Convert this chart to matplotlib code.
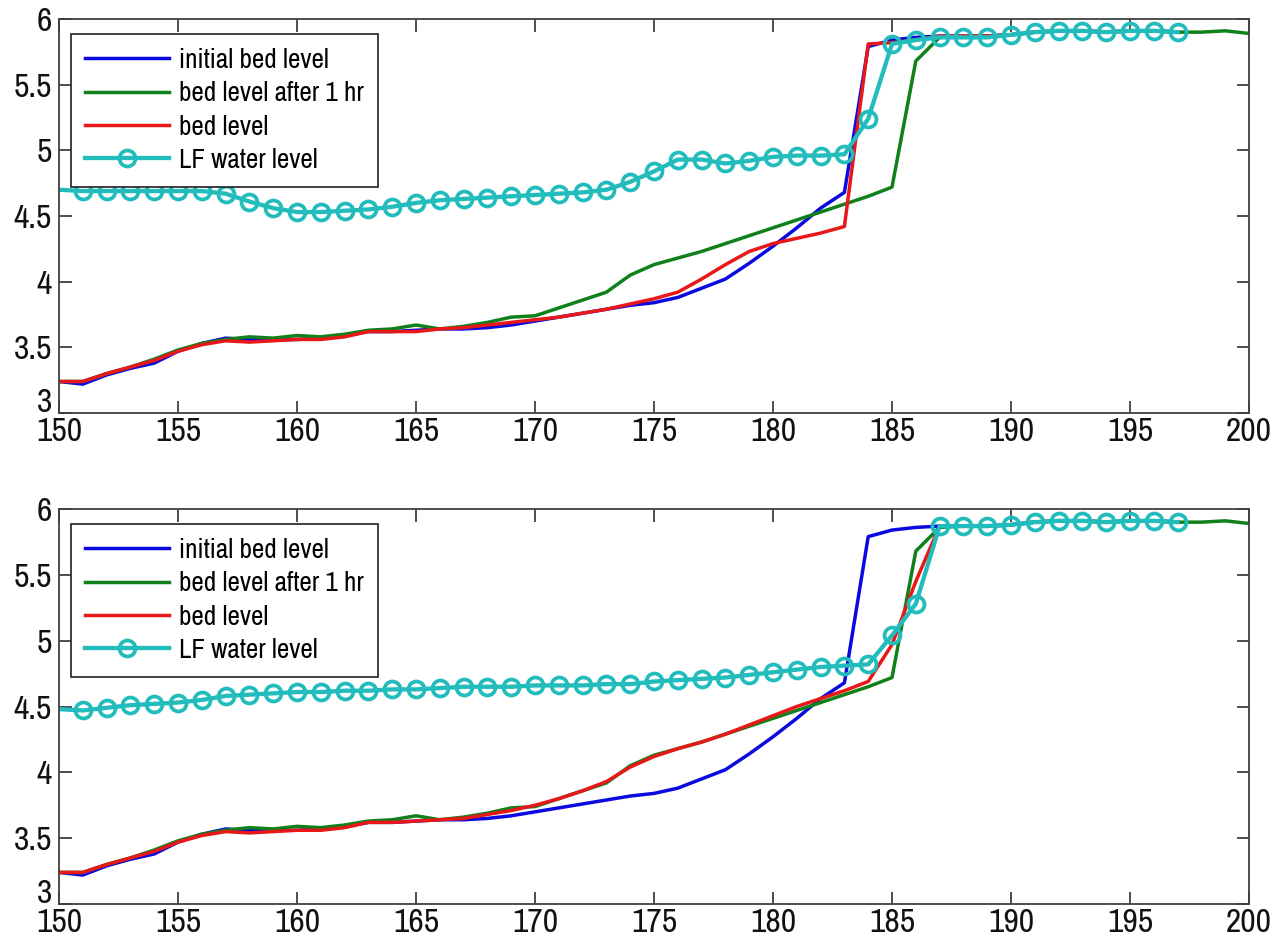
import numpy as np
import matplotlib
matplotlib.use("Agg")
import matplotlib.pyplot as plt
from matplotlib import font_manager as fm
from matplotlib.transforms import ScaledTranslation

# pick a condensed sans-serif (the original uses narrow Helvetica-like text)
available = {f.name for f in fm.fontManager.ttflist}
prefs = ['Liberation Sans Narrow', 'Arial Narrow', 'Archivo Narrow',
         'PT Sans Narrow', 'Roboto Condensed', 'Liberation Sans']
FAM = next((p for p in prefs if p in available), 'DejaVu Sans')
plt.rcParams['font.family'] = [FAM, 'Liberation Sans', 'DejaVu Sans']

# ---------------- data ----------------
x_bed = list(range(150, 201))      # 150..200 (green)
x_short = list(range(150, 198))    # 150..197 (blue, red, cyan)

initial_bed = [3.24, 3.22, 3.29, 3.34, 3.38, 3.47, 3.53, 3.57, 3.56, 3.56,
               3.56, 3.57, 3.59, 3.62, 3.62, 3.63, 3.64, 3.64, 3.65, 3.67,
               3.70, 3.73, 3.76, 3.79, 3.82, 3.84, 3.88, 3.95, 4.02, 4.14,
               4.27, 4.41, 4.56, 4.68, 5.79, 5.84, 5.86, 5.87, 5.87, 5.87,
               5.88, 5.90, 5.91, 5.91, 5.90, 5.91, 5.91, 5.90]

bed_after_1hr = [3.24, 3.24, 3.30, 3.35, 3.41, 3.48, 3.53, 3.56, 3.58, 3.57,
                 3.59, 3.58, 3.60, 3.63, 3.64, 3.67, 3.64, 3.66, 3.69, 3.73,
                 3.74, 3.80, 3.86, 3.92, 4.05, 4.13, 4.18, 4.23, 4.29, 4.35,
                 4.41, 4.47, 4.53, 4.59, 4.65, 4.72, 5.68, 5.86, 5.87, 5.87,
                 5.88, 5.90, 5.91, 5.91, 5.90, 5.91, 5.91, 5.90, 5.90, 5.91,
                 5.89]

bed_level_top = [3.24, 3.24, 3.30, 3.35, 3.40, 3.47, 3.52, 3.55, 3.54, 3.55,
                 3.56, 3.56, 3.58, 3.62, 3.62, 3.62, 3.64, 3.65, 3.67, 3.69,
                 3.71, 3.73, 3.76, 3.79, 3.83, 3.87, 3.92, 4.02, 4.13, 4.23,
                 4.29, 4.33, 4.37, 4.42, 5.81, 5.82, 5.84, 5.87, 5.87, 5.87,
                 5.88, 5.90, 5.91, 5.91, 5.90, 5.91, 5.91, 5.90]

water_top = [4.70, 4.69, 4.69, 4.69, 4.69, 4.69, 4.69, 4.67, 4.61, 4.56,
             4.53, 4.53, 4.54, 4.55, 4.57, 4.60, 4.62, 4.63, 4.64, 4.65,
             4.66, 4.67, 4.68, 4.70, 4.76, 4.84, 4.93, 4.93, 4.90, 4.92,
             4.95, 4.96, 4.96, 4.97, 5.24, 5.81, 5.84, 5.86, 5.86, 5.86,
             5.88, 5.90, 5.91, 5.91, 5.90, 5.91, 5.91, 5.90]

bed_level_bottom = [3.24, 3.24, 3.30, 3.35, 3.40, 3.47, 3.52, 3.55, 3.54, 3.55,
                    3.56, 3.56, 3.58, 3.62, 3.62, 3.63, 3.64, 3.65, 3.68, 3.71,
                    3.75, 3.80, 3.86, 3.93, 4.04, 4.12, 4.18, 4.23, 4.29, 4.36,
                    4.43, 4.50, 4.56, 4.62, 4.69, 4.97, 5.45, 5.87, 5.87, 5.87,
                    5.88, 5.90, 5.91, 5.91, 5.90, 5.91, 5.91, 5.90]

water_bottom = [4.48, 4.47, 4.49, 4.51, 4.52, 4.53, 4.55, 4.58, 4.59, 4.60,
                4.61, 4.61, 4.62, 4.62, 4.63, 4.63, 4.64, 4.65, 4.65, 4.65,
                4.66, 4.66, 4.66, 4.67, 4.67, 4.69, 4.70, 4.71, 4.72, 4.74,
                4.76, 4.78, 4.80, 4.81, 4.82, 5.04, 5.28, 5.87, 5.87, 5.87,
                5.88, 5.90, 5.91, 5.91, 5.90, 5.91, 5.91, 5.90]

labels = ['initial bed level', 'bed level after 1 hr', 'bed level', 'LF water level']
x_ticks = [150, 155, 160, 165, 170, 175, 180, 185, 190, 195, 200]
y_ticks = [3, 3.5, 4, 4.5, 5, 5.5, 6]
y_ticklabels = ['3', '3.5', '4', '4.5', '5', '5.5', '6']

# ---------------- style ----------------
C_BLUE = '#0a0ae0'
C_GREEN = '#10801a'
C_RED = '#e81818'
C_CYAN = '#22bcbc'
LW = 2.5

fig = plt.figure(figsize=(12.83, 9.41), dpi=100)
renderer = fig.canvas.get_renderer()


def text_size(s, target_w):
    t = fig.text(0, 0, s, fontsize=20)
    bb = t.get_window_extent(renderer)
    t.remove()
    return 20 * target_w / bb.width


FS_LEG = text_size('initial bed level', 150)
FS_TICK = text_size('150', 46)
t = fig.text(0, 0, 'initial bed level', fontsize=FS_LEG)
H_LEG = t.get_window_extent(renderer).height
t.remove()
E = FS_LEG * 100 / 72.0
BOX_H = 153.0
BORDERPAD = 14.0 / E
LABELSPACING = max(0.05, (BOX_H - 2 * BORDERPAD * E - 4 * H_LEG) / (3 * E))

ax_top = fig.add_axes([0.046, 0.5611, 0.9275, 0.4187])
ax_bot = fig.add_axes([0.046, 0.0393, 0.9275, 0.4198])


def draw(ax, bed, water):
    ax.plot(x_short, initial_bed, color=C_BLUE, lw=LW, label=labels[0])
    ax.plot(x_bed, bed_after_1hr, color=C_GREEN, lw=LW, label=labels[1])
    ax.plot(x_short, bed, color=C_RED, lw=LW, label=labels[2])
    ax.plot(x_short, water, color=C_CYAN, lw=LW + 0.6, marker='o',
            markersize=11.5, markerfacecolor='none', markeredgewidth=2.7,
            markevery=list(range(1, len(x_short))), label=labels[3])
    ax.set_xlim(150, 200)
    ax.set_ylim(3, 6)
    ax.set_xticks(x_ticks)
    ax.set_xticklabels([str(v) for v in x_ticks])
    ax.set_yticks(y_ticks)
    ax.set_yticklabels(y_ticklabels)
    ax.tick_params(direction='in', length=9, width=1.2, colors='#303030',
                   labelcolor='#111111', labelsize=FS_TICK, top=True, right=True)
    ax.tick_params(axis='x', pad=3)
    ax.tick_params(axis='y', pad=5)
    for s in ax.spines.values():
        s.set_color('#404040')
        s.set_linewidth(1.3)
    lbl = ax.get_yticklabels()[0]
    lbl.set_transform(lbl.get_transform() +
                      ScaledTranslation(0, 9.5 / 72, fig.dpi_scale_trans))
    leg = ax.legend(loc='upper left', bbox_to_anchor=(0.0101, 0.962),
                    borderaxespad=0, fontsize=FS_LEG, frameon=True,
                    fancybox=False, edgecolor='#202020', framealpha=1,
                    handlelength=84 / E, handletextpad=10 / E,
                    labelspacing=LABELSPACING, borderpad=BORDERPAD)
    leg.get_frame().set_linewidth(1.2)


draw(ax_top, bed_level_top, water_top)
draw(ax_bot, bed_level_bottom, water_bottom)

fig.savefig('out.png', dpi=100)
